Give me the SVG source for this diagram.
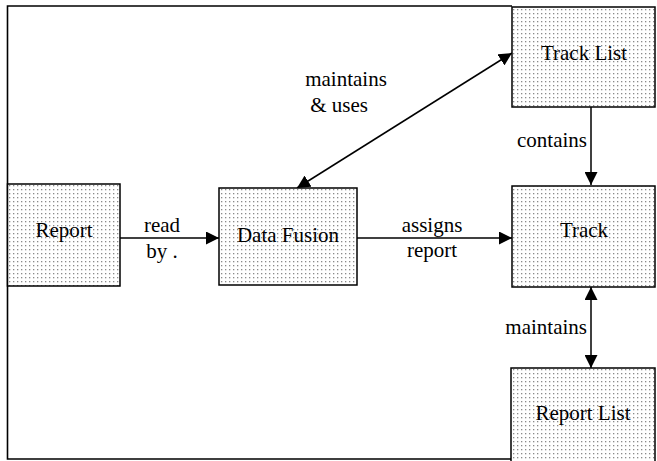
<svg xmlns="http://www.w3.org/2000/svg" width="657" height="461" viewBox="0 0 657 461">
  <defs>
    <pattern id="dots" width="4" height="4" patternUnits="userSpaceOnUse">
      <rect width="4" height="4" fill="#ffffff"/>
      <rect x="1" y="1" width="1.3" height="1.3" fill="#8a8a8a"/>
    </pattern>
    <marker id="arrow" viewBox="0 0 10 10" refX="10" refY="5" markerWidth="13" markerHeight="13" markerUnits="userSpaceOnUse" orient="auto-start-reverse">
      <path d="M0,0 L10,5 L0,10 Z" fill="#000"/>
    </marker>
  </defs>
  <style>
    .box { fill: url(#dots); stroke: #000; stroke-width: 1.5; }
    text { font-family: Liberation Serif, Times New Roman, Times, DejaVu Serif, serif; font-size: 21px; fill: #000; }
    .node-text { text-anchor: middle; }
    .edge { stroke: #000; stroke-width: 1.5; fill: none; }
  </style>
  <rect width="657" height="461" fill="#ffffff"/>

  <!-- outer frame -->
  <path d="M512,6 H7.5 V459 H511" fill="none" stroke="#000" stroke-width="1.6"/>

  <g id="connectors">
    <line class="edge" x1="120" y1="238" x2="219" y2="238" marker-end="url(#arrow)"/>
    <line class="edge" x1="357" y1="238" x2="512" y2="238" marker-end="url(#arrow)"/>
    <line class="edge" x1="297" y1="188" x2="512" y2="53" marker-start="url(#arrow)" marker-end="url(#arrow)"/>
    <line class="edge" x1="591" y1="107" x2="591" y2="185" marker-end="url(#arrow)"/>
    <line class="edge" x1="591" y1="287" x2="591" y2="368" marker-start="url(#arrow)" marker-end="url(#arrow)"/>
    <text x="162" y="232" text-anchor="middle">read</text>
    <text x="162" y="258" text-anchor="middle">by .</text>
    <text x="432" y="232" text-anchor="middle">assigns</text>
    <text x="432" y="257" text-anchor="middle">report</text>
    <text x="346" y="86" text-anchor="middle">maintains</text>
    <text x="339" y="112" text-anchor="middle">&amp; uses</text>
    <text x="587" y="147" text-anchor="end">contains</text>
    <text x="587" y="334" text-anchor="end">maintains</text>
  </g>

  <g id="report">
    <rect class="box" x="7.5" y="184" width="112.5" height="102"/>
    <text class="node-text" x="64" y="237">Report</text>
  </g>
  <g id="data-fusion">
    <rect class="box" x="219" y="188" width="138" height="97"/>
    <text class="node-text" x="288" y="242">Data Fusion</text>
  </g>
  <g id="track-list">
    <rect class="box" x="512" y="7" width="143" height="100"/>
    <text class="node-text" x="584" y="60">Track List</text>
  </g>
  <g id="track">
    <rect class="box" x="512" y="186" width="143" height="101"/>
    <text class="node-text" x="584" y="237">Track</text>
  </g>
  <g id="report-list">
    <rect class="box" x="511" y="368" width="144" height="100"/>
    <text class="node-text" x="583" y="420">Report List</text>
  </g>
</svg>
